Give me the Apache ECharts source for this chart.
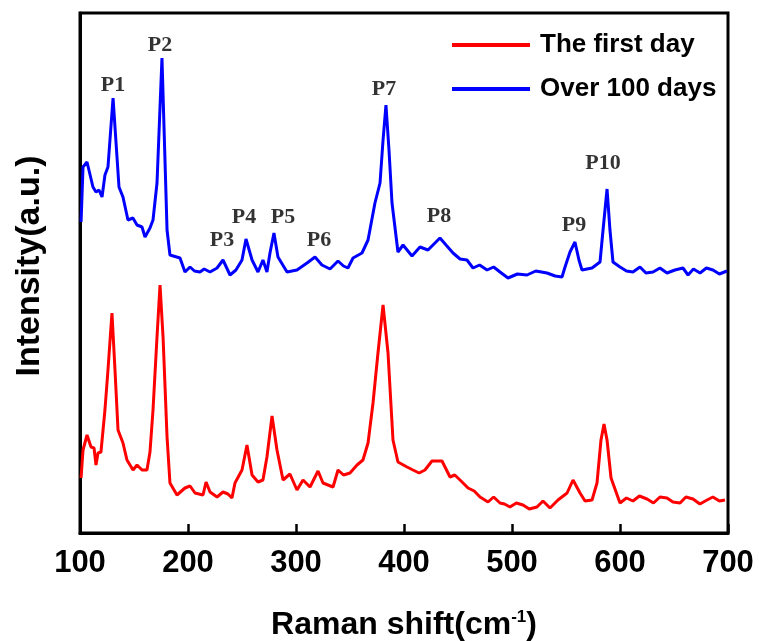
<!DOCTYPE html>
<html>
<head>
<meta charset="utf-8">
<script src="https://cdn.jsdelivr.net/npm/echarts@6/dist/echarts.min.js"></script>
<style>
html, body { margin: 0; padding: 0; background: #fff; }
#main { width: 759px; height: 641px; }
</style>
</head>
<body>
<div id="main"></div>
<script>
// 拉曼位移 (cm-1) 与强度 (a.u.)
var firstDayX = [101, 102.8, 106.5, 110.2, 113, 114.8, 116.7, 119.4, 123.1, 125.9, 129.6, 132.4, 135.2, 139.8, 143.5, 149.1, 152.8, 157.4, 162, 164.8,
	167.6, 171.3, 174.1, 176.9, 180.6, 183.3, 189.8, 197.2, 201.9, 206.5, 213.9, 216.7, 220.4, 226.9, 232.4, 237, 240.7, 243.5, 250, 254.6,
	259.3, 264.8, 269.4, 273.1, 277.8, 282.4, 288, 294.4, 300.9, 306.5, 313, 320.4, 325, 334.3, 338.9, 344, 350, 356.5, 362, 366.7, 371.3,
	375.9, 380.6, 385.2, 389.8, 394.4, 402.8, 408.3, 414, 419.4, 425.9, 435.2, 442.6, 447, 451.9, 459.3, 465, 470.4, 477.8, 483, 488.9, 493, 498.1, 504, 510.2, 516, 523.1, 528.7,
	535.2, 542.6, 551, 556.5, 563, 567.6, 574.1, 578.7, 582.4, 585.2, 588, 591.7, 600, 606, 612, 618, 625, 631, 637, 643.5, 649, 655.6, 661, 667.6, 674, 680.6, 686, 692, 697.2];
var firstDayY = [55, 83, 98, 86, 85, 68, 80, 81, 123, 163, 220, 163, 103, 90, 73, 63, 68, 63, 63, 81,
	123, 196, 248, 196, 96, 50, 38, 45, 47, 40, 38, 51, 41, 36, 41, 39, 35, 50, 63, 88,
	58, 51, 53, 76, 117, 83, 53, 59, 43, 53, 46, 62, 50, 46, 63, 58, 60, 68, 73, 90, 130,
	180, 228, 180, 93, 71, 66, 63, 60, 63, 72, 72, 56, 58, 53, 45, 42, 36, 31, 36, 30, 29, 26, 30, 28, 24, 26, 32,
	25, 33, 40, 53, 40, 32, 33, 50, 93, 109, 93, 55, 30, 35, 32, 37, 34, 30, 36, 35, 31, 30, 36, 34, 29, 33, 36, 32, 33];

var over100X = [101, 102.8, 106.5, 112, 114.8, 117.6, 120.4, 123.1, 125.9, 130.6, 136.1, 139.8, 144.4, 149, 152.8, 157.4, 160.2, 164.8, 167.6, 171.3,
	175.9, 180.6, 183.3, 192.6, 197.2, 201.9, 206, 211.1, 215, 220.4, 226.9, 232.4, 238.9, 244.4, 250, 253.7, 259.3, 264.8, 269.4, 273.1, 275.9, 279.6,
	283.3, 291.7, 300.9, 310.2, 317.6, 324, 331.5, 338.9, 344, 348.1, 352.8, 361.1, 366.7, 373.1, 377.8, 380.6, 383.3, 386.1, 388.9, 394.4, 399.1,
	407.4, 414.8, 422.2, 433.3, 438.9, 445.4, 451.9, 458.3, 463.9, 470, 476.9, 483, 488.9, 496.3, 505, 513.9, 522, 532.4, 540, 546.3, 549.1, 553.7, 558.3, 562, 564.8,
	574.1, 581.5, 584.3, 588, 590.7, 593.5, 600, 606, 612, 618.5, 624, 630.6, 637, 643.5, 650.9, 658.3, 663, 668, 674.1, 680, 686.1, 692, 699];
var over100Y = [311, 366, 371, 346, 341, 343, 336, 358, 366, 435, 346, 336, 313, 315, 308, 306, 296, 305, 313, 350,
	475, 303, 278, 275, 261, 266, 262, 261, 264, 261, 265, 273, 258, 263, 273, 294, 273, 261, 273, 261, 280, 300,
	276, 261, 263, 270, 276, 268, 264, 272, 267, 265, 275, 280, 293, 330, 350, 393, 428, 383, 330, 281, 288,
	277, 286, 283, 295, 288, 280, 274, 273, 265, 268, 263, 266, 261, 255, 259, 258, 262, 260, 257, 256, 266, 281, 291, 273, 263,
	265, 271, 303, 344, 303, 271, 266, 262, 261, 266, 260, 261, 265, 260, 263, 265, 258, 264, 260, 265, 263, 259, 262];

// 峰标记
var peakNames = ['P1', 'P2', 'P3', 'P4', 'P5', 'P6', 'P7', 'P8', 'P9', 'P10'];
var peakX = [130.6, 174.1, 231.5, 251.9, 288, 321.3, 381.5, 432.4, 557.4, 584.3];
var peakY = [448, 488, 293, 316, 316, 293, 444, 317, 308, 370];

var xTicks = [100, 200, 300, 400, 500, 600, 700];

function pairs(xs, ys) {
	var out = [];
	for (var i = 0; i < xs.length; i++) {
		out.push([xs[i], ys[i]]);
	}
	return out;
}

var peakData = [];
for (var i = 0; i < peakNames.length; i++) {
	peakData.push({ name: peakNames[i], value: [peakX[i], peakY[i]] });
}

var myChart = echarts.init(document.getElementById('main'));
var option = {
	animation: false,
	backgroundColor: '#fff',
	grid: {
		left: 80,
		right: 31,
		top: 13,
		bottom: 108,
		outerBoundsMode: 'none',
		show: true,
		borderColor: '#000',
		borderWidth: 3
	},
	legend: {
		data: ['The first day', 'Over 100 days'],
		orient: 'vertical',
		left: 452,
		top: 32,
		padding: 0,
		itemWidth: 78,
		itemHeight: 4,
		itemGap: 18,
		icon: 'rect',
		textStyle: {
			fontFamily: 'Liberation Sans',
			fontWeight: 'bold',
			fontSize: 26,
			lineHeight: 24,
			color: '#000',
			padding: [0, 0, 0, 5]
		}
	},
	xAxis: {
		type: 'value',
		min: xTicks[0],
		max: xTicks[xTicks.length - 1],
		interval: 100,
		splitLine: { show: false },
		axisLine: { lineStyle: { color: '#000', width: 3 } },
		axisTick: { inside: true, length: 9, lineStyle: { color: '#000', width: 2.5 } },
		axisLabel: {
			margin: 15,
			fontFamily: 'Liberation Sans',
			fontWeight: 'bold',
			fontSize: 31,
			color: '#000'
		},
		name: 'Raman shift(cm{sup|-1})',
		nameLocation: 'middle',
		nameGap: 76,
		nameTextStyle: {
			fontFamily: 'Liberation Sans',
			fontWeight: 'bold',
			fontSize: 32,
			color: '#000',
			rich: {
				sup: {
					fontFamily: 'Liberation Sans',
					fontWeight: 'bold',
					fontSize: 17,
					color: '#000',
					padding: [0, 0, 16, 0]
				}
			}
		}
	},
	yAxis: {
		type: 'value',
		min: 0,
		max: 520,
		splitLine: { show: false },
		axisLine: { show: true, lineStyle: { color: '#000', width: 3 } },
		axisTick: { show: false },
		axisLabel: { show: false },
		name: 'Intensity(a.u.)',
		nameLocation: 'middle',
		nameGap: 33,
		nameTextStyle: {
			fontFamily: 'Liberation Sans',
			fontWeight: 'bold',
			fontSize: 34,
			color: '#000',
			padding: [0, 0, 0, 14]
		}
	},
	series: [{
		name: 'The first day',
		type: 'line',
		color: '#ff0000',
		showSymbol: false,
		lineStyle: { width: 3, color: '#ff0000' },
		data: pairs(firstDayX, firstDayY)
	},
	{
		name: 'Over 100 days',
		type: 'line',
		color: '#0000ff',
		showSymbol: false,
		lineStyle: { width: 3, color: '#0000ff' },
		data: pairs(over100X, over100Y)
	},
	{
		name: 'peaks',
		type: 'scatter',
		symbolSize: 0,
		silent: true,
		label: {
			show: true,
			position: 'inside',
			formatter: '{b}',
			fontFamily: 'Liberation Serif',
			fontWeight: 'bold',
			fontSize: 22,
			color: '#000'
		},
		data: peakData
	}]
};
myChart.setOption(option);
</script>
</body>
</html>
